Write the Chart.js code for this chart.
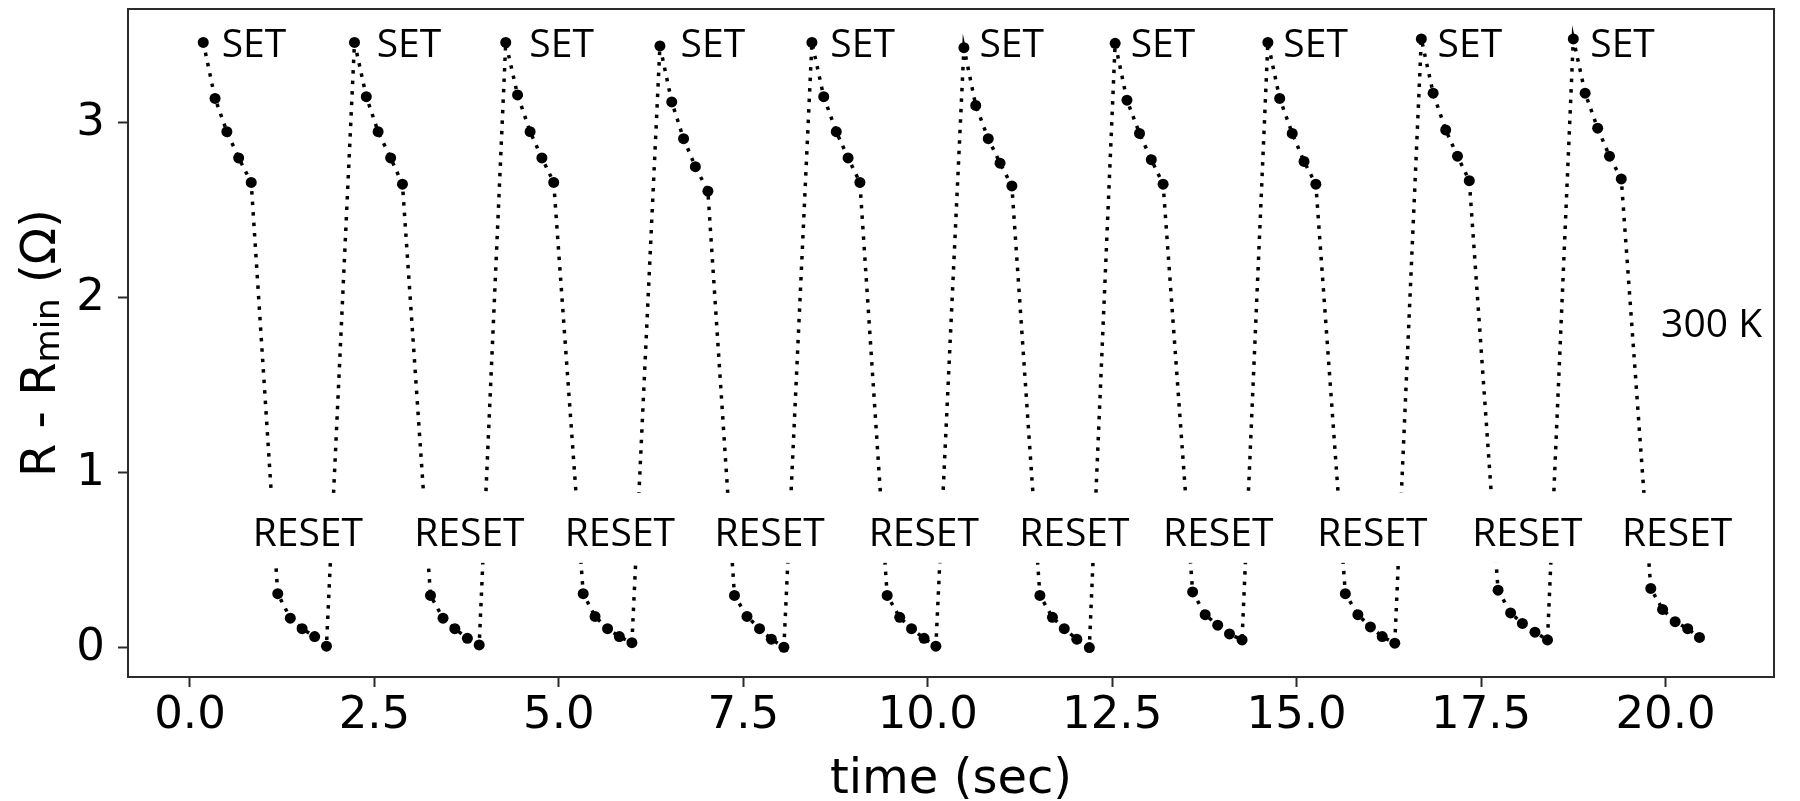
<!DOCTYPE html>
<html>
<head>
<meta charset="utf-8">
<script src="https://cdn.jsdelivr.net/npm/chart.js@4.4.1/dist/chart.umd.min.js"></script>
<style>
  html, body { margin: 0; padding: 0; background: #fff; }
  #wrap { width: 1800px; height: 801px; }
</style>
</head>
<body>
<div id="wrap"><canvas id="cycleChart" width="1800" height="801"></canvas></div>
<script>
// measurement times (s), 10 SET/RESET cycles of 10 points each
var timeSec = [
    0.18, 0.34, 0.50, 0.66, 0.83, 1.19, 1.36, 1.52, 1.69, 1.85,
    2.23, 2.39, 2.55, 2.72, 2.88, 3.26, 3.43, 3.59, 3.76, 3.92,
    4.28, 4.44, 4.61, 4.77, 4.93, 5.33, 5.49, 5.66, 5.82, 5.99,
    6.37, 6.53, 6.69, 6.85, 7.02, 7.38, 7.55, 7.72, 7.88, 8.05,
    8.43, 8.59, 8.76, 8.92, 9.08, 9.45, 9.62, 9.78, 9.95, 10.11,
    10.49, 10.65, 10.82, 10.98, 11.14, 11.52, 11.69, 11.85, 12.02, 12.19,
    12.54, 12.70, 12.87, 13.03, 13.19, 13.59, 13.76, 13.93, 14.09, 14.26,
    14.61, 14.77, 14.94, 15.10, 15.26, 15.66, 15.83, 16.00, 16.16, 16.33,
    16.69, 16.85, 17.02, 17.18, 17.34, 17.73, 17.90, 18.06, 18.23, 18.40,
    18.75, 18.91, 19.08, 19.24, 19.40, 19.80, 19.96, 20.13, 20.30, 20.46
];

// R - Rmin (ohm)
var resistance = [
    3.46, 3.14, 2.95, 2.80, 2.66, 0.31, 0.17, 0.11, 0.065, 0.010,
    3.46, 3.15, 2.95, 2.80, 2.65, 0.30, 0.17, 0.11, 0.055, 0.017,
    3.46, 3.16, 2.95, 2.80, 2.66, 0.31, 0.18, 0.11, 0.065, 0.030,
    3.44, 3.12, 2.91, 2.75, 2.61, 0.30, 0.18, 0.11, 0.050, 0.004,
    3.46, 3.15, 2.95, 2.80, 2.66, 0.30, 0.175, 0.11, 0.055, 0.010,
    3.43, 3.10, 2.91, 2.77, 2.64, 0.30, 0.175, 0.11, 0.050, 0.002,
    3.455, 3.13, 2.94, 2.79, 2.65, 0.32, 0.19, 0.13, 0.080, 0.046,
    3.46, 3.14, 2.94, 2.78, 2.65, 0.31, 0.19, 0.12, 0.065, 0.027,
    3.48, 3.17, 2.96, 2.81, 2.67, 0.33, 0.20, 0.14, 0.090, 0.046,
    3.48, 3.17, 2.97, 2.81, 2.68, 0.34, 0.22, 0.15, 0.110, 0.060
];

var xTicks = [0, 2.5, 5, 7.5, 10, 12.5, 15, 17.5, 20];
var yTicks = [0, 1, 2, 3];

// annotation anchors (data coords): left edge of text, vertical centre
var setLabelX = [0.43, 2.53, 4.60, 6.65, 8.68, 10.70, 12.75, 14.82, 16.91, 18.98];
var setLabelY = 3.454;
var resetLabelX = [0.85, 3.04, 5.08, 7.11, 9.20, 11.24, 13.19, 15.28, 17.38, 19.41];
var resetLabelY = 0.663;
var tempLabel = { text: '300 K', x: 19.94, y: 1.857 };

var annotations = {
    id: 'annotations',
    afterDatasetsDraw: function (chart) {
        var ctx = chart.ctx;
        var xs = chart.scales.x;
        var ys = chart.scales.y;
        var area = chart.chartArea;
        var fs = 39;
        var half = 0.714 * fs / 2;

        ctx.save();
        ctx.font = fs + 'px "Open Sans"';
        ctx.textBaseline = 'alphabetic';
        ctx.textAlign = 'left';

        ctx.fillStyle = '#000';
        setLabelX.forEach(function (v) {
            ctx.fillText('SET', xs.getPixelForValue(v), ys.getPixelForValue(setLabelY) + half);
        });

        var w = ctx.measureText('RESET').width;
        resetLabelX.forEach(function (v) {
            var px = xs.getPixelForValue(v);
            var base = ys.getPixelForValue(resetLabelY) + half;
            ctx.fillStyle = '#fff';
            ctx.fillRect(px - 4, base - 53, w + 8, 70);
            ctx.fillStyle = '#000';
            ctx.fillText('RESET', px, base);
        });

        ctx.fillText(tempLabel.text, xs.getPixelForValue(tempLabel.x), ys.getPixelForValue(tempLabel.y) + half);

        // frame
        ctx.strokeStyle = '#2b2b2b';
        ctx.lineWidth = 2;
        ctx.strokeRect(area.left, area.top, area.right - area.left, area.bottom - area.top);

        // x title
        ctx.font = '48px "DejaVu Sans"';
        ctx.textAlign = 'center';
        ctx.fillText('time (sec)', (area.left + area.right) / 2, 793);

        // y title with subscript
        ctx.textAlign = 'left';
        var big = '48px "DejaVu Sans"', small = '34px "DejaVu Sans"';
        ctx.font = big;
        var w1 = ctx.measureText('R - R').width;
        var w3 = ctx.measureText(' (\u03A9)').width;
        ctx.font = small;
        var w2 = ctx.measureText('min').width;
        var total = w1 + w2 + w3;
        ctx.translate(55, (area.top + area.bottom) / 2);
        ctx.rotate(-Math.PI / 2);
        var x0 = -total / 2;
        ctx.font = big;
        ctx.fillText('R - R', x0, 0);
        ctx.font = small;
        ctx.fillText('min', x0 + w1, 4);
        ctx.font = big;
        ctx.fillText(' (\u03A9)', x0 + w1 + w2, 0);
        ctx.restore();
    }
};

var points = timeSec.map(function (t, i) {
    return { x: t, y: resistance[i] };
});

new Chart(document.getElementById('cycleChart'), {
    type: 'scatter',
    data: {
        datasets: [{
            data: points,
            showLine: true,
            borderColor: '#000',
            borderWidth: 3.5,
            borderDash: [3.5, 7],
            borderCapStyle: 'butt',
            tension: 0,
            pointRadius: 5.5,
            pointHoverRadius: 5.5,
            pointBackgroundColor: '#000',
            pointBorderWidth: 0
        }]
    },
    options: {
        responsive: false,
        animation: false,
        devicePixelRatio: 1,
        events: [],
        layout: { padding: { left: 0, top: 9, right: 26, bottom: 0 } },
        plugins: {
            legend: { display: false },
            tooltip: { enabled: false }
        },
        scales: {
            x: {
                type: 'linear',
                min: -0.84,
                max: 21.47,
                afterBuildTicks: function (scale) {
                    scale.ticks = xTicks.map(function (v) { return { value: v }; });
                },
                afterFit: function (scale) {
                    scale.height = 124;
                    scale.paddingLeft = 0;
                    scale.paddingRight = 0;
                },
                ticks: {
                    font: { family: 'DejaVu Sans', size: 45 },
                    color: '#000',
                    padding: 2,
                    maxRotation: 0,
                    callback: function (v) { return Number(v).toFixed(1); }
                },
                grid: {
                    drawOnChartArea: false,
                    drawTicks: true,
                    tickLength: 10,
                    tickWidth: 2,
                    tickColor: '#2b2b2b'
                },
                border: { display: false }
            },
            y: {
                type: 'linear',
                min: -0.166,
                max: 3.651,
                afterBuildTicks: function (scale) {
                    scale.ticks = yTicks.map(function (v) { return { value: v }; });
                },
                afterFit: function (scale) {
                    scale.width = 128;
                    scale.paddingTop = 0;
                    scale.paddingBottom = 0;
                },
                ticks: {
                    font: { family: 'DejaVu Sans', size: 45 },
                    color: '#000',
                    padding: 13,
                    callback: function (v) { return String(v); }
                },
                grid: {
                    drawOnChartArea: false,
                    drawTicks: true,
                    tickLength: 10,
                    tickWidth: 2,
                    tickColor: '#2b2b2b'
                },
                border: { display: false }
            }
        }
    },
    plugins: [annotations]
});
</script>
</body>
</html>
